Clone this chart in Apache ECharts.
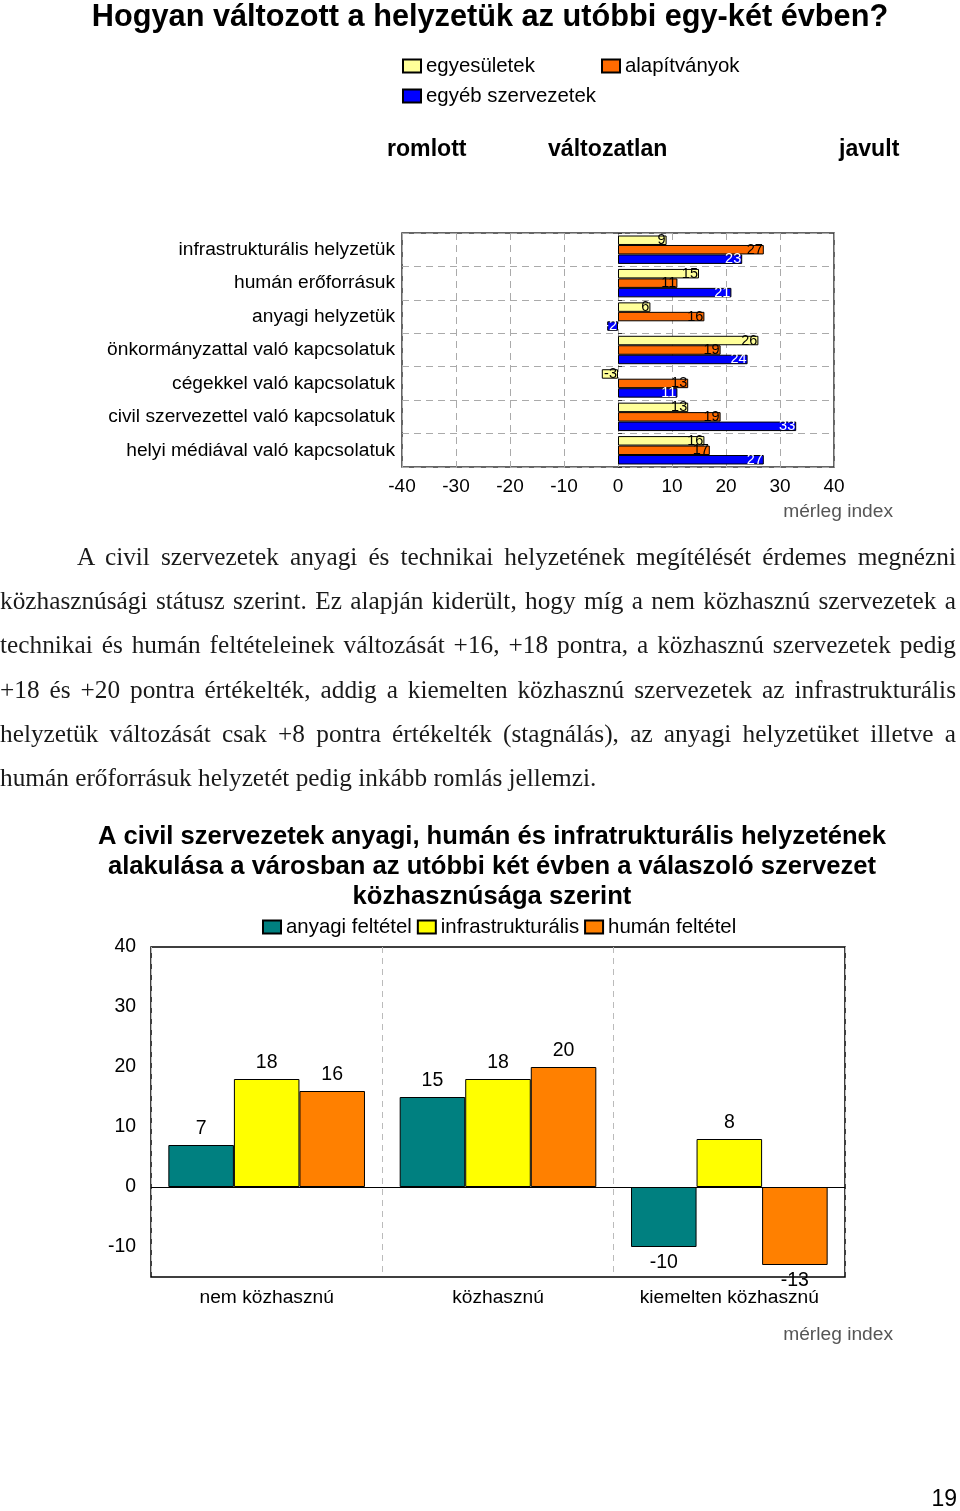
<!DOCTYPE html>
<html>
<head>
<meta charset="utf-8">
<script src="https://cdn.jsdelivr.net/npm/echarts@6/dist/echarts.min.js"></script>
<style>
html,body{margin:0;padding:0;background:#fff;}
#chart{position:absolute;left:0;top:0;width:960px;height:1511px;}
#para{position:absolute;left:0;top:534px;width:956px;font-family:"Liberation Serif","Times New Roman",serif;font-size:25.3px;color:#1a1a1a;}
#para div{height:44.2px;line-height:44.2px;text-align:justify;text-align-last:justify;white-space:nowrap;}
#para div.first{padding-left:77px;}
#para div.last{text-align:left;text-align-last:left;}
</style>
</head>
<body>
<div id="chart"></div>
<div id="para">
<div class="first">A civil szervezetek anyagi és technikai helyzetének megítélését érdemes megnézni</div>
<div>közhasznúsági státusz szerint. Ez alapján kiderült, hogy míg a nem közhasznú szervezetek a</div>
<div>technikai és humán feltételeinek változását +16, +18 pontra, a közhasznú szervezetek pedig</div>
<div>+18 és +20 pontra értékelték, addig a kiemelten közhasznú szervezetek az infrastrukturális</div>
<div>helyzetük változását csak +8 pontra értékelték (stagnálás), az anyagi helyzetüket illetve a</div>
<div class="last">humán erőforrásuk helyzetét pedig inkább romlás jellemzi.</div>
</div>
<script>
// ---- Chart 1 data ----
const topCategories = ['infrastrukturális helyzetük','humán erőforrásuk','anyagi helyzetük','önkormányzattal való kapcsolatuk','cégekkel való kapcsolatuk','civil szervezettel való kapcsolatuk','helyi médiával való kapcsolatuk'];
const egyesuletek = [9, 15, 6, 26, -3, 13, 16];
const alapitvanyok = [27, 11, 16, 19, 13, 19, 17];
const egyebSzervezetek = [23, 21, -2, 24, 11, 33, 27];
const topTicks = [-40, -30, -20, -10, 0, 10, 20, 30, 40];

// ---- Chart 2 data ----
const bottomCategories = ['nem közhasznú', 'közhasznú', 'kiemelten közhasznú'];
const anyagiFeltetel = [7, 15, -10];
const infrastrukturalis = [18, 18, 8];
const humanFeltetel = [16, 20, -13];
const bottomTicks = [-10, 0, 10, 20, 30, 40];

const FONT = '"Liberation Sans", Arial, sans-serif';
const chart = echarts.init(document.getElementById('chart'), null, {renderer: 'canvas'});

function topSeries(name, data, color, labelColor) {
  return {
    name: name, type: 'bar', xAxisIndex: 0, yAxisIndex: 0,
    data: data, barGap: '0%', barCategoryGap: '15%',
    itemStyle: {color: color, borderColor: '#000', borderWidth: 1},
    label: {show: true, position: 'insideRight', distance: 1, color: labelColor, fontFamily: FONT, fontSize: 14.5},
    animation: false
  };
}
function bottomSeries(name, data, color) {
  return {
    name: name, type: 'bar', xAxisIndex: 1, yAxisIndex: 1,
    data: data.map(v => v < 0 ? {value: v, label: {position: 'bottom'}} : v),
    barGap: '0%', barCategoryGap: '15%',
    itemStyle: {color: color, borderColor: '#000', borderWidth: 1},
    label: {show: true, position: 'top', distance: 6, color: '#000', fontFamily: FONT, fontSize: 19.5},
    animation: false
  };
}

const s4 = bottomSeries('anyagi feltétel', anyagiFeltetel, '#008080');
s4.markLine = {silent: true, symbol: 'none', label: {show: false}, lineStyle: {color: '#000', type: 'solid', width: 1}, data: [{yAxis: 0}], animation: false};

const legendText = {fontFamily: FONT, fontSize: 20.4, color: '#000'};

const option = {
  backgroundColor: '#fff',
  animation: false,
  title: [
    {text: 'Hogyan változott a helyzetük az utóbbi egy-két évben?', left: 485, top: -3, textAlign: 'center',
     textStyle: {fontFamily: FONT, fontSize: 30.7, fontWeight: 'bold', color: '#000'}},
    {text: 'A civil szervezetek anyagi, humán és infratrukturális helyzetének\nalakulása a városban az utóbbi két évben a válaszoló szervezet\nközhasznúsága szerint',
     left: 487, top: 817, textAlign: 'center',
     textStyle: {fontFamily: FONT, fontSize: 25.6, fontWeight: 'bold', color: '#000', lineHeight: 30}}
  ],
  legend: [
    {data: ['egyesületek'], left: 397, top: 51, itemWidth: 18, itemHeight: 13, itemGap: 4, textStyle: legendText, selectedMode: false, icon: 'rect'},
    {data: ['alapítványok'], left: 596, top: 51, itemWidth: 18, itemHeight: 13, itemGap: 4, textStyle: legendText, selectedMode: false, icon: 'rect'},
    {data: ['egyéb szervezetek'], left: 397, top: 81, itemWidth: 18, itemHeight: 13, itemGap: 4, textStyle: legendText, selectedMode: false, icon: 'rect'},
    {data: ['anyagi feltétel', 'infrastrukturális', 'humán feltétel'], left: 257, top: 912, itemWidth: 18, itemHeight: 13, itemGap: 5, textStyle: legendText, selectedMode: false, icon: 'rect'}
  ],
  grid: [
    {left: 402, right: 126, top: 233, height: 234, show: true, borderColor: '#333', borderWidth: 1.5, backgroundColor: 'transparent'},
    {left: 151, right: 115, top: 947, height: 330, show: true, borderColor: '#000', borderWidth: 1.5, backgroundColor: 'transparent'}
  ],
  xAxis: [
    {type: 'value', gridIndex: 0, min: -40, max: 40, interval: 10,
     axisLine: {show: false}, axisTick: {show: false},
     axisLabel: {fontFamily: FONT, fontSize: 19, color: '#000', margin: 10,
       formatter: v => topTicks.includes(v) ? String(v) : ''},
     splitLine: {show: true, lineStyle: {color: '#aaa', type: [7, 5], width: 1}}},
    {type: 'category', gridIndex: 1, data: bottomCategories,
     axisLine: {show: false}, axisTick: {show: false, interval: 0},
     axisLabel: {interval: 0, hideOverlap: false, fontFamily: FONT, fontSize: 19.2, color: '#000', margin: 11},
     splitLine: {show: true, interval: 0, lineStyle: {color: '#bbb', type: [6, 5], width: 1}}}
  ],
  yAxis: [
    {type: 'category', gridIndex: 0, data: topCategories, inverse: true,
     axisLine: {show: false}, axisTick: {show: true, inside: true, length: 4, interval: 0, lineStyle: {color: '#333'}},
     axisLabel: {interval: 0, fontFamily: FONT, fontSize: 19.2, color: '#000', margin: 7},
     splitLine: {show: true, interval: 0, lineStyle: {color: '#aaa', type: [7, 5], width: 1}}},
    {type: 'value', gridIndex: 1, min: -15, max: 40, interval: 5,
     axisLine: {show: false}, axisTick: {show: false},
     axisLabel: {fontFamily: FONT, fontSize: 19.4, color: '#000', margin: 15,
       formatter: v => bottomTicks.includes(v) ? String(v) : ''},
     splitLine: {show: false}}
  ],
  graphic: [
    {type: 'text', left: 387, top: 138, style: {text: 'romlott', font: 'bold 23.1px ' + FONT, fill: '#000'}},
    {type: 'text', left: 548, top: 138, style: {text: 'változatlan', font: 'bold 23.1px ' + FONT, fill: '#000'}},
    {type: 'text', left: 839, top: 138, style: {text: 'javult', font: 'bold 23.1px ' + FONT, fill: '#000'}},
    {type: 'text', right: 67, top: 502, style: {text: 'mérleg index', font: '19.2px ' + FONT, fill: '#555'}},
    {type: 'text', right: 67, top: 1325, style: {text: 'mérleg index', font: '19.2px ' + FONT, fill: '#555'}},
    {type: 'text', right: 3, top: 1488, style: {text: '19', font: '23px ' + FONT, fill: '#000'}}
  ],
  series: [
    topSeries('egyesületek', egyesuletek, '#FFFF99', '#000'),
    topSeries('alapítványok', alapitvanyok, '#FF6A00', '#000'),
    topSeries('egyéb szervezetek', egyebSzervezetek, '#0000FF', '#fff'),
    s4,
    bottomSeries('infrastrukturális', infrastrukturalis, '#FFFF00'),
    bottomSeries('humán feltétel', humanFeltetel, '#FF8000')
  ]
};
chart.setOption(option);
</script>
</body>
</html>
